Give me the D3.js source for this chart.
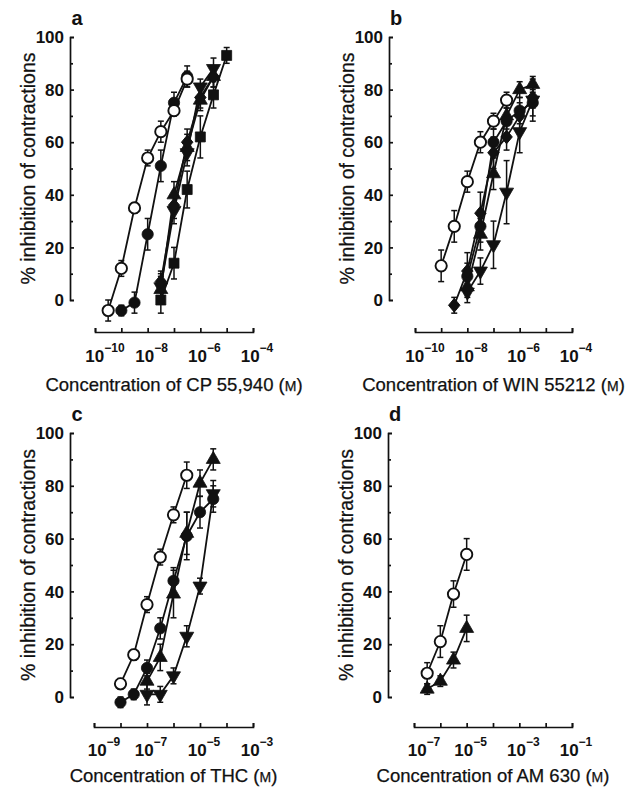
<!DOCTYPE html>
<html>
<head>
<meta charset="utf-8">
<script src="https://cdn.jsdelivr.net/npm/d3@7"></script>
<style>
  body { margin: 0; background: #fff; }
  text { font-family: "Liberation Sans", Arial, Helvetica, sans-serif; fill: #111; }
</style>
</head>
<body>
<svg width="632" height="787"></svg>
<script>
// each point: [log10 concentration (M), % inhibition, s.e.mean]

// a - CP 55,940
var aOpen    = [[-9.5,-4,4],[-9,12,3],[-8.5,35,2],[-8,54,3],[-7.5,64,4],[-7,72,2],[-6.5,84,3]];
var aFilled  = [[-9,-4,2],[-8.5,-1,4],[-8,25,6],[-7.5,51,6],[-7,75,4],[-6.5,85,4]];
var aSquare  = [[-7.5,0,5],[-7,14,6],[-6.5,42,7],[-6,62,8],[-5.5,78,5],[-5,93,3]];
var aDiamond = [[-7.5,7,4],[-7,36,5],[-6.5,60,5],[-6,77,4],[-5.5,85,4]];
var aUp      = [[-7.5,4,5],[-7,40,5],[-6.5,58,5],[-6,76,4],[-5.5,85,4]];
var aDown    = [[-7.5,5,5],[-7,34,5],[-6.5,56,5],[-6,81,3],[-5.5,88,4]];

// b - WIN 55212
var bOpen    = [[-9,13,6],[-8.5,28,6],[-8,45,4],[-7.5,60,4],[-7,68,3],[-6.5,76,3]];
var bFilled  = [[-8,9,5],[-7.5,28,6],[-7,60,5],[-6.5,68,5],[-6,72,5],[-5.5,75,5]];
var bDiamond = [[-8.5,-2,3],[-8,11,7],[-7.5,33,8],[-7,56,6],[-6.5,62,5],[-6,70,5],[-5.5,77,4]];
var bUp      = [[-8,5,4],[-7.5,25,6],[-7,48,6],[-6.5,70,5],[-6,80,3],[-5.5,82,3]];
var bDown    = [[-8,3,4],[-7.5,11,5],[-7,21,9],[-6.5,41,12],[-6,64,8],[-5.5,76,8]];

// c - THC
var cOpen    = [[-8,5,2],[-7.5,16,2],[-7,35,3],[-6.5,53,3],[-6,69,3],[-5.5,84,5]];
var cFilled  = [[-8,-2,2],[-7.5,1,2],[-7,11,3],[-6.5,26,4],[-6,44,5],[-5.5,61,9],[-5,70,6],[-4.5,75,5]];
var cUp      = [[-7,6,3],[-6.5,15,5],[-6,39,9],[-5.5,62,8],[-5,81,5],[-4.5,90,4]];
var cDown    = [[-7,1,4],[-6.5,1,3],[-6,8,3],[-5.5,23,4],[-5,42,3],[-4.5,77,5]];

// d - AM 630
var dOpen    = [[-6.5,9,4],[-6,21,6],[-5.5,39,5],[-5,54,6]];
var dUp      = [[-6.5,3,2],[-6,6,2],[-5.5,14,3],[-5,26,5]];

var yTickLabels = [0, 20, 40, 60, 80, 100];
var yTicksAll = d3.range(0, 101, 10);
var aXLabels = [-10, -8, -6, -4];
var bXLabels = [-10, -8, -6, -4];
var cXLabels = [-9, -7, -5, -3];
var dXLabels = [-7, -5, -3, -1];

var panels = [
  { letter: "a", drug: "CP 55,940", dom: [-10, -4], labels: aXLabels,
    xr: [95, 253], yr: [300, 37], yAxisX: 70, xAxisY: 332, labDy: 30, titleDy: 59,
    series: [["down", aDown], ["up", aUp], ["diamond", aDiamond], ["square", aSquare], ["filled", aFilled], ["open", aOpen]] },
  { letter: "b", drug: "WIN 55212", dom: [-10, -4], labels: bXLabels,
    xr: [415, 572], yr: [300, 37], yAxisX: 389, xAxisY: 332, labDy: 30, titleDy: 59,
    series: [["down", bDown], ["up", bUp], ["filled", bFilled], ["diamond", bDiamond], ["open", bOpen]] },
  { letter: "c", drug: "THC", dom: [-9, -3], labels: cXLabels,
    xr: [94, 253], yr: [697, 433], yAxisX: 70, xAxisY: 727, labDy: 29, titleDy: 55,
    series: [["down", cDown], ["up", cUp], ["filled", cFilled], ["open", cOpen]] },
  { letter: "d", drug: "AM 630", dom: [-7, -1], labels: dXLabels,
    xr: [414, 572], yr: [697, 433], yAxisX: 388, xAxisY: 727, labDy: 29, titleDy: 55,
    series: [["up", dUp], ["open", dOpen]] }
];

var svg = d3.select("svg");

function marker(kind) {
  if (kind == "open" || kind == "filled") return d3.symbol(d3.symbolCircle, 100)();
  if (kind == "square") return d3.symbol(d3.symbolSquare, 100)();
  if (kind == "diamond") return d3.symbol(d3.symbolSquare, 66)();
  return d3.symbol(d3.symbolTriangle, 85)();
}
function markerTransform(kind, x, y) {
  if (kind == "down") return "translate(" + x + "," + y + ") rotate(180)";
  if (kind == "diamond") return "translate(" + x + "," + y + ") scale(1,1.2) rotate(45)";
  return "translate(" + x + "," + y + ")";
}

panels.forEach(function(p) {
  var x = d3.scaleLinear().domain(p.dom).range(p.xr);
  var y = d3.scaleLinear().domain([0, 100]).range(p.yr);
  var g = svg.append("g");

  // y axis, ticks pointing inwards
  var ya = g.append("g")
    .attr("transform", "translate(" + p.yAxisX + ",0)")
    .call(d3.axisRight(y).tickValues(yTicksAll).tickSize(4).tickFormat(""));
  ya.selectAll(".tick line").attr("x2", function(d) { return d % 20 ? 3 : 4; });
  ya.selectAll("path, line").attr("stroke", "#111").attr("stroke-width", 1.7);

  g.selectAll(".ylab").data(yTickLabels).enter().append("text")
    .attr("x", p.yAxisX - 6).attr("y", function(d) { return y(d); })
    .attr("dy", "0.36em").attr("text-anchor", "end")
    .attr("font-size", 17).attr("font-weight", "bold")
    .text(function(d) { return d; });

  // x axis, detached below the plot, ticks up
  var decades = d3.range(p.dom[0], p.dom[1] + 1);
  var xa = g.append("g")
    .attr("transform", "translate(0," + p.xAxisY + ")")
    .call(d3.axisTop(x).tickValues(decades).tickSize(4).tickFormat(""));
  xa.selectAll("path, line").attr("stroke", "#111").attr("stroke-width", 1.7);

  var xl = g.selectAll(".xlab").data(p.labels).enter().append("text")
    .attr("x", function(d, i) { return x(d) + (i == 0 ? 10 : 4); })
    .attr("y", p.xAxisY + p.labDy)
    .attr("text-anchor", "middle")
    .attr("font-size", 17).attr("font-weight", "bold");
  xl.append("tspan").text("10");
  xl.append("tspan").attr("dy", -10).attr("font-size", 12).text(function(d) { return "\u2212" + (-d); });

  // titles
  var xt = g.append("text")
    .attr("x", (p.xr[0] + p.xr[1]) / 2)
    .attr("y", p.xAxisY + p.titleDy)
    .attr("text-anchor", "middle").attr("font-size", 18.5)
    .attr("stroke", "#111").attr("stroke-width", 0.25);
  xt.append("tspan").text("Concentration of " + p.drug + " (");
  xt.append("tspan").attr("font-size", 14).text("M");
  xt.append("tspan").text(")");

  g.append("text")
    .attr("transform", "translate(" + (p.yAxisX - 42) + "," + ((p.yr[0] + p.yr[1]) / 2) + ") rotate(-90)")
    .attr("text-anchor", "middle").attr("dy", "0.35em")
    .attr("font-size", 19.5)
    .attr("stroke", "#111").attr("stroke-width", 0.25)
    .text("% inhibition of contractions");

  g.append("text")
    .attr("x", p.yAxisX + 7).attr("y", p.yr[1] - 12)
    .attr("text-anchor", "middle")
    .attr("font-size", 20).attr("font-weight", "bold")
    .text(p.letter);

  // curves
  var line = d3.line().x(function(d) { return x(d[0]); }).y(function(d) { return y(d[1]); });
  p.series.forEach(function(s) {
    g.append("path").datum(s[1]).attr("d", line)
      .attr("fill", "none").attr("stroke", "#111").attr("stroke-width", 1.8);
  });

  // error bars
  p.series.forEach(function(s) {
    var eb = g.append("g").selectAll("g").data(s[1]).enter().append("g")
      .attr("stroke", "#111").attr("stroke-width", 1.5);
    eb.append("line")
      .attr("x1", function(d) { return x(d[0]); }).attr("x2", function(d) { return x(d[0]); })
      .attr("y1", function(d) { return y(d[1] - d[2]); }).attr("y2", function(d) { return y(d[1] + d[2]); });
    [-1, 1].forEach(function(sgn) {
      eb.append("line")
        .attr("x1", function(d) { return x(d[0]) - 3; }).attr("x2", function(d) { return x(d[0]) + 3; })
        .attr("y1", function(d) { return y(d[1] + sgn * d[2]); }).attr("y2", function(d) { return y(d[1] + sgn * d[2]); });
    });
  });

  // markers
  p.series.forEach(function(s) {
    g.append("g").selectAll("path").data(s[1]).enter().append("path")
      .attr("d", marker(s[0]))
      .attr("transform", function(d) { return markerTransform(s[0], x(d[0]), y(d[1])); })
      .attr("fill", s[0] == "open" ? "#fff" : "#111")
      .attr("stroke", "#111").attr("stroke-width", s[0] == "open" ? 1.9 : 0.8);
  });
});
</script>
</body>
</html>
